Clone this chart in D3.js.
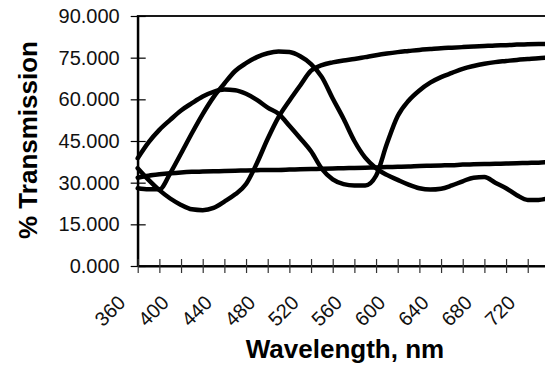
<!DOCTYPE html>
<html>
<head>
<meta charset="utf-8">
<script src="https://cdn.jsdelivr.net/npm/d3@7"></script>
<style>
  html, body { margin: 0; padding: 0; background: #fff; }
  svg { display: block; font-family: "Liberation Sans", Arial, sans-serif; }
</style>
</head>
<body>
<svg id="chart" width="545" height="367"></svg>
<script>
// ---- data ----
const wavelengths = [360,370,380,390,400,410,420,430,440,450,460,470,480,490,500,510,520,530,540,550,560,570,580,590,600,610,620,630,640,650,660,670,680,690,700,710,720,730,740];
const seriesA = [38.8,44.5,49,52.6,56,58.6,61,62.7,63.5,63.3,62,59.8,57,54.8,50.5,46,41.3,35,31.2,29.5,29,29,32.5,44,54,59.5,63.2,66,68,69.5,71,72,72.8,73.4,73.8,74.2,74.5,74.8,75];
const seriesP = [28,27.6,27.6,33.4,40.5,47.8,54.7,60.8,65.7,70.2,73,75.2,76.6,77.2,77,75.5,72.7,68,60.3,53,45,39,35.2,32.8,31,29.3,28,27.5,27.8,29,30.5,31.8,32,30,28,25.5,23.8,23.8,24.5];
const seriesD = [35.2,31,27.3,24.3,22,20.4,20.1,20.9,23.2,25.8,29.5,37,45.8,53.6,59.5,65,70.3,72.3,73.3,74,74.5,75.2,75.9,76.5,77,77.4,77.8,78.1,78.4,78.6,78.8,79,79.2,79.4,79.5,79.7,79.8,79.9,80];
const seriesL = [31.8,32.5,33,33.4,33.7,33.9,34,34.1,34.2,34.3,34.4,34.5,34.6,34.6,34.7,34.8,34.9,35,35.1,35.2,35.3,35.4,35.5,35.6,35.7,35.8,36,36.1,36.2,36.3,36.5,36.6,36.7,36.8,36.9,37,37.1,37.2,37.4];
const xTickValues = [360,380,400,420,440,460,480,500,520,540,560,580,600,620,640,660,680,700,720,740];
const xLabelValues = [360,400,440,480,520,560,600,640,680,720];
const yTickValues = [0,15,30,45,60,75,90];
const xTitle = "Wavelength, nm";
const yTitle = "% Transmission";

(function () {
// ---- layout ----
const svg = d3.select("#chart");
const pL = 137.7, pR = 549.4, pT = 16, pB = 266;
const x = d3.scaleLinear().domain([360, 740]).range([pL, pR]);
const y = d3.scaleLinear().domain([0, 90]).range([pB, pT]);

// plot frame (top + right)
svg.append("rect")
  .attr("x", pL).attr("y", pT)
  .attr("width", pR - pL).attr("height", pB - pT)
  .attr("fill", "none").attr("stroke", "#000").attr("stroke-width", 1.8);

// y axis
const yAxis = svg.append("g")
  .attr("transform", `translate(${pL},0)`)
  .call(d3.axisLeft(y).tickValues(yTickValues).tickFormat(d3.format(".3f"))
        .tickSizeOuter(0).tickSizeInner(7).tickPadding(11));
yAxis.select(".domain").attr("stroke-width", 2.2);
yAxis.selectAll(".tick line").attr("x1", 8).attr("x2", -7).attr("stroke-width", 1.2);
yAxis.selectAll(".tick text").attr("font-size", 20).attr("fill", "#111")
  .attr("font-family", "Liberation Sans, Arial, sans-serif");

// x axis
const xAxis = svg.append("g")
  .attr("transform", `translate(0,${pB})`)
  .call(d3.axisBottom(x).tickValues(xTickValues).tickFormat("")
        .tickSizeOuter(0).tickSizeInner(7));
xAxis.select(".domain").attr("stroke-width", 2.2);
xAxis.selectAll(".tick line").attr("y1", -7).attr("y2", 7).attr("stroke-width", 1.2).attr("stroke", "#333");

// x labels rotated
svg.append("g").selectAll("text").data(xLabelValues).join("text")
  .attr("transform", d => `translate(${x(d) - 11},${304}) rotate(-45)`)
  .attr("text-anchor", "end")
  .attr("font-size", 20).attr("fill", "#111")
  .text(d => d);

// curves
const line = d3.line().x((d, i) => x(wavelengths[i])).y(d => y(d)).curve(d3.curveMonotoneX);
[seriesL, seriesA, seriesP, seriesD].forEach(s => {
  svg.append("path").datum(s).attr("d", line)
    .attr("fill", "none").attr("stroke", "#000").attr("stroke-width", 4.5)
    .attr("stroke-linejoin", "round").attr("stroke-linecap", "round");
});

// titles
svg.append("text").attr("x", 345).attr("y", 358).attr("text-anchor", "middle")
  .attr("font-size", 26).attr("font-weight", "bold").text(xTitle);
svg.append("text").attr("transform", "translate(37,140) rotate(-90)").attr("text-anchor", "middle")
  .attr("font-size", 26).attr("font-weight", "bold").text(yTitle);
})();
</script>
</body>
</html>
